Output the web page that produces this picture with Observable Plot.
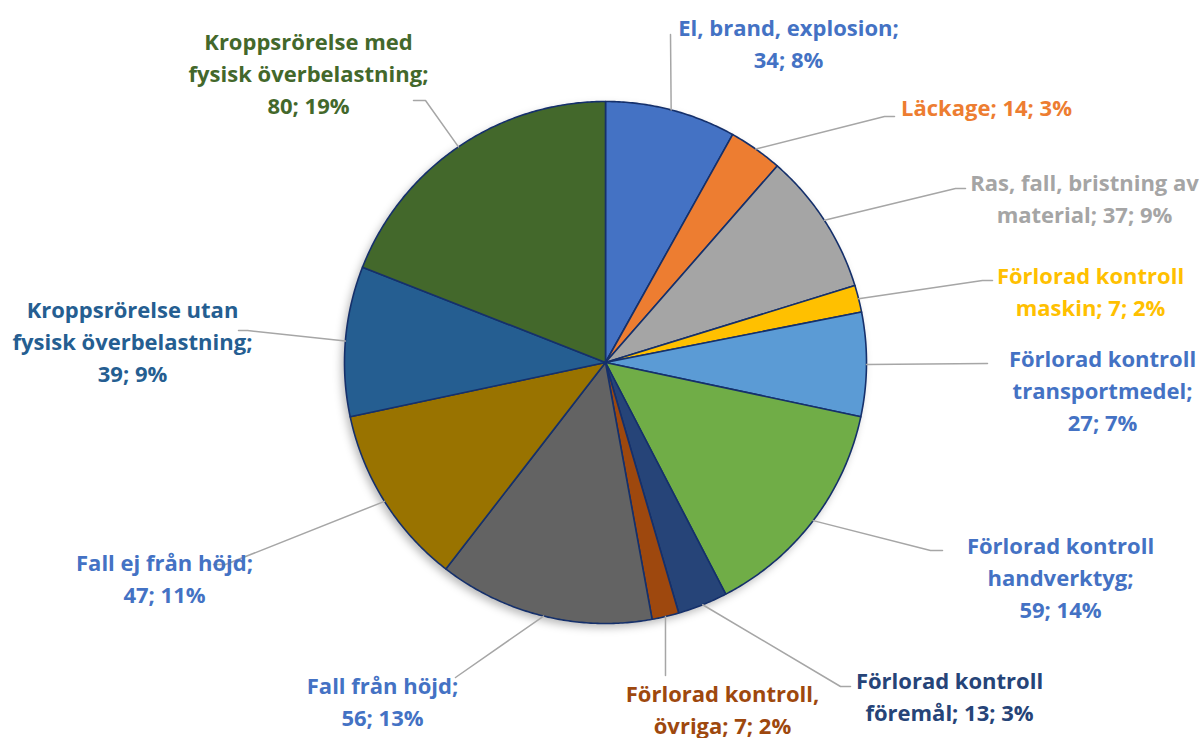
<!DOCTYPE html>
<html>
<head>
<meta charset="utf-8">
<script src="https://cdn.jsdelivr.net/npm/d3@7"></script>
<script src="https://cdn.jsdelivr.net/npm/@observablehq/plot@0.6"></script>
<style>
  html, body { margin: 0; padding: 0; background: #ffffff; }
  #chart svg { display: block; }
</style>
</head>
<body>
<div id="chart"></div>
<script>
// ---------- DATA ----------
const categories = [
  "El, brand, explosion",
  "Läckage",
  "Ras, fall, bristning av\nmaterial",
  "Förlorad kontroll\nmaskin",
  "Förlorad kontroll\ntransportmedel",
  "Förlorad kontroll\nhandverktyg",
  "Förlorad kontroll\nföremål",
  "Förlorad kontroll,\növriga",
  "Fall från höjd",
  "Fall ej från höjd",
  "Kroppsrörelse utan\nfysisk överbelastning",
  "Kroppsrörelse med\nfysisk överbelastning"
];
const counts = [34, 14, 37, 7, 27, 59, 13, 7, 56, 47, 39, 80];
const percentLabels = ["8%", "3%", "9%", "2%", "7%", "14%", "3%", "2%", "13%", "11%", "9%", "19%"];
// whether the "count; percent" part goes on its own line
const valueOnNewLine = [true, false, false, false, true, true, false, false, true, true, true, true];

// ---------- STYLE / LAYOUT ----------
const sliceColors = ["#4472C4", "#ED7D31", "#A5A5A5", "#FFC000", "#5B9BD5", "#70AD47",
                     "#264478", "#9E480E", "#636363", "#997300", "#255E91", "#43682B"];
const labelColors = ["#4472C4", "#ED7D31", "#A5A5A5", "#FFC000", "#4472C4", "#4472C4",
                     "#264478", "#9E480E", "#4472C4", "#4472C4", "#255E91", "#43682B"];
// label block centres (pixels)
const labelX = [788, 986, 1084, 1090, 1102, 1060, 949, 722, 382, 164, 132, 308];
const labelY = [41.5, 105, 196.5, 289, 388.5, 575, 694, 707, 699.5, 576.5, 339.5, 71.5];
// leader line bends / ends after the start on the slice edge
const leaderPoints = [
  [[670, 34]],
  [[884, 116], [894, 116]],
  [[955, 188], [965, 188]],
  [[982, 280], [992, 280]],
  [[987, 363]],
  [[930, 550], [942, 550]],
  [[840, 686], [850, 686]],
  [[665, 675]],
  [[455, 677]],
  [[225, 564], [213, 564]],
  [[247, 330], [238, 330]],
  [[425, 100], [413, 100]]
];

const W = 1202, H = 738;
const cx = 605, cy = 362, R = 261;

// ---------- GEOMETRY ----------
const arcs = d3.pie().sort(null).value(d => d)(counts);
const pt = (a, r) => ({x: cx + r * Math.sin(a), y: cy - r * Math.cos(a)});

const sliceMarks = arcs.map((a, i) => {
  const pts = [{x: cx, y: cy}];
  const n = Math.max(2, Math.ceil((a.endAngle - a.startAngle) / (Math.PI / 360)));
  for (let k = 0; k <= n; k++) {
    pts.push(pt(a.startAngle + (a.endAngle - a.startAngle) * k / n, R));
  }
  return Plot.line(pts, {
    x: "x", y: "y", curve: "linear-closed",
    fill: sliceColors[i], stroke: "#15306B", strokeWidth: 1.6, strokeLinejoin: "round"
  });
});

const shadowPts = d3.range(0, 361, 1).map(d => pt(d * Math.PI / 180, R));

const leaderMarks = arcs.map((a, i) => {
  const mid = (a.startAngle + a.endAngle) / 2;
  const pts = [pt(mid, R), ...leaderPoints[i].map(([x, y]) => ({x, y}))];
  return Plot.line(pts, {x: "x", y: "y", stroke: "#A6A6A6", strokeWidth: 1.5});
});

const labels = categories.map((c, i) => ({
  text: c + ";" + (valueOnNewLine[i] ? "\n" : " ") + counts[i] + "; " + percentLabels[i],
  x: labelX[i], y: labelY[i], color: labelColors[i]
}));

const chart = Plot.plot({
  width: W, height: H,
  margin: 0,
  x: {domain: [0, W], range: [0, W], axis: null},
  y: {domain: [0, H], range: [0, H], axis: null},
  color: {type: "identity"},
  marks: [
    Plot.line(shadowPts.map(p => ({x: p.x - 3, y: p.y + 4})), {
      x: "x", y: "y", curve: "linear-closed", fill: "#000", fillOpacity: 0.28,
      imageFilter: "blur(4px)"
    }),
    ...sliceMarks,
    ...leaderMarks,
    Plot.text(labels, {
      x: "x", y: "y", text: "text", fill: "color",
      fontFamily: "Open Sans", fontWeight: "bold", fontSize: 22, lineHeight: 1.45,
      textAnchor: "middle"
    })
  ],
  style: {background: "#ffffff", overflow: "visible"}
});

document.getElementById("chart").appendChild(chart);
</script>
</body>
</html>
